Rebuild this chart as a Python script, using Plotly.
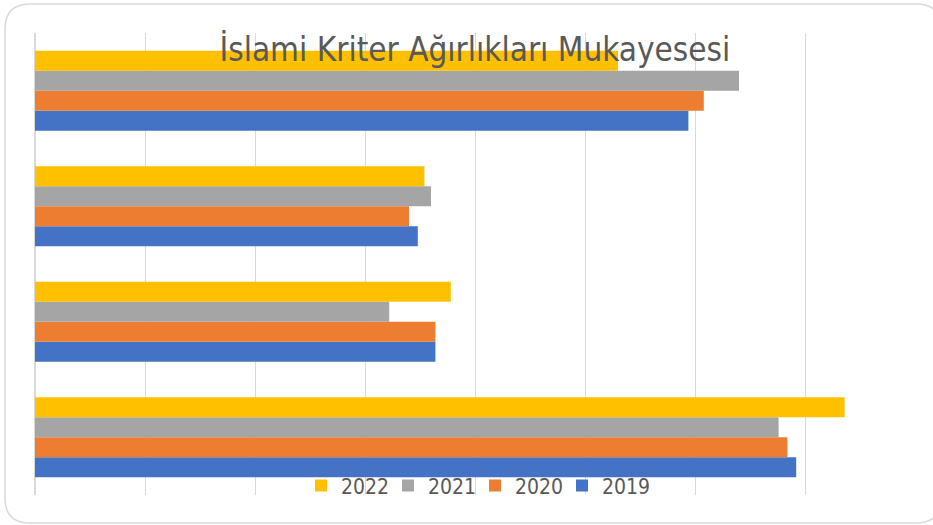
import plotly.graph_objects as go

categories = ["Kriter 1", "Kriter 2", "Kriter 3", "Kriter 4"]  # bottom to top
years = ["2019", "2020", "2021", "2022"]
values_2019 = [0.346, 0.182, 0.174, 0.297]
values_2020 = [0.342, 0.182, 0.170, 0.304]
values_2021 = [0.338, 0.161, 0.180, 0.320]
values_2022 = [0.368, 0.189, 0.177, 0.265]
colors = ["#4472C4", "#ED7D31", "#A5A5A5", "#FFC000"]

series = [values_2019, values_2020, values_2021, values_2022]

fig = go.Figure()
for name, vals, col in zip(years, series, colors):
    fig.add_trace(go.Bar(y=categories, x=vals, name=name, orientation="h",
                         marker=dict(color=col, line=dict(width=0))))

# rounded border in paper coords (plot area: x 35..915 px, y 33..495 px)
W, H = 933, 525
ml, mr, mt, mb = 35, 18, 33, 30
pw, ph = W - ml - mr, H - mt - mb
def px(x): return (x - ml) / pw
def py(y): return (H - mb - y) / ph
L, R, T, B = px(5), px(941), py(4), py(523)
rx, ry = 25 / pw, 25 / ph
path = (f"M {L+rx},{T} L {R-rx},{T} Q {R},{T} {R},{T-ry} L {R},{B+ry} "
        f"Q {R},{B} {R-rx},{B} L {L+rx},{B} Q {L},{B} {L},{B+ry} "
        f"L {L},{T-ry} Q {L},{T} {L+rx},{T} Z")

font_fam = "DejaVu Sans Condensed, sans-serif"
fig.update_layout(
    width=W, height=H,
    margin=dict(l=ml, r=mr, t=mt, b=mb),
    paper_bgcolor="white", plot_bgcolor="white",
    barmode="group", bargap=0.307, bargroupgap=0,
    title=dict(text="İslami Kriter Ağırlıkları Mukayesesi",
               font=dict(family=font_fam, size=33, color="#595959"),
               x=0.509, xanchor="center", y=0.905, yanchor="middle", yref="container"),
    xaxis=dict(range=[0, 0.4], dtick=0.05, showgrid=True, gridcolor="#D9D9D9", gridwidth=1,
               showticklabels=False, zeroline=True, zerolinecolor="#D9D9D9", showline=False,
               ticks=""),
    yaxis=dict(showticklabels=False, showgrid=False, showline=False, ticks=""),
    showlegend=True,
    legend=dict(orientation="h", traceorder="reversed", x=0.5, xanchor="center",
                y=0.02, yanchor="middle", bgcolor="rgba(0,0,0,0)",
                font=dict(family=font_fam, size=21, color="#595959"),
                itemwidth=30, entrywidth=42, entrywidthmode="pixels"),
    shapes=[dict(type="path", xref="paper", yref="paper", path=path,
                 line=dict(color="#D9D9D9", width=1.5), layer="below")],
)

fig.write_html("out.html")
